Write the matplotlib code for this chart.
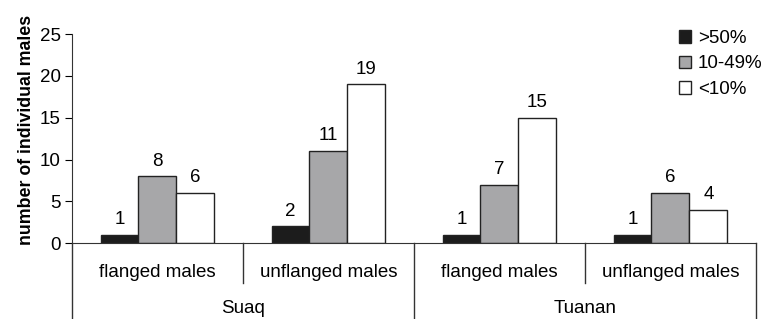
import matplotlib.pyplot as plt
import numpy as np

plt.rcParams['font.family'] = ['Liberation Sans', 'DejaVu Sans']

categories = ["flanged males", "unflanged males", "flanged males", "unflanged males"]
sites = ["Suaq", "Tuanan"]
series_names = [">50%", "10-49%", "<10%"]
over_50 = [1, 2, 1, 1]
mid_10_49 = [8, 11, 7, 6]
under_10 = [6, 19, 15, 4]
colors = ["#1c1c1c", "#a7a7a9", "#ffffff"]

fs = 13.5

fig = plt.figure(figsize=(7.64, 3.19), dpi=100)
ax = fig.add_axes([0.0942, 0.238, 0.8953, 0.655])

x = np.arange(len(categories))
w = 0.222
for i, (vals, col, name) in enumerate(zip([over_50, mid_10_49, under_10], colors, series_names)):
    pos = x + (i - 1) * w
    ax.bar(pos, vals, width=w, color=col, edgecolor="#222222", linewidth=1, label=name)
    for xp, v in zip(pos, vals):
        ax.text(xp, v + 0.8, str(v), ha="center", va="bottom", fontsize=fs)

ax.set_xlim(-0.5, 3.5)
ax.set_ylim(0, 25)
ax.set_yticks(range(0, 26, 5))
ax.tick_params(axis="y", direction="out", length=5, labelsize=fs, pad=3)
ax.set_xticks([])
ax.spines["top"].set_visible(False)
ax.spines["right"].set_visible(False)
ax.spines["left"].set_color("#333333")
ax.spines["bottom"].set_color("#333333")
ax.set_ylabel("number of individual males", fontsize=12.8, fontweight="bold")
ax.yaxis.set_label_coords(-0.054, 0.54)

# hierarchical x axis below the bars
tr = ax.get_xaxis_transform()
for xs in [-0.5, 1.5, 3.5]:
    ax.plot([xs, xs], [0, -0.37], transform=tr, color="#333333", lw=1, clip_on=False)
for xs in [0.5, 2.5]:
    ax.plot([xs, xs], [0, -0.19], transform=tr, color="#333333", lw=1, clip_on=False)
for xi, c in zip(x, categories):
    ax.text(xi, -0.139, c, transform=tr, ha="center", va="center", fontsize=fs)
for j, s in enumerate(sites):
    ax.text(2 * j + 0.5, -0.311, s, transform=tr, ha="center", va="center", fontsize=fs)

ax.legend(loc="upper left", bbox_to_anchor=(679 / 764, 1 - 30 / 319), bbox_transform=fig.transFigure,
          frameon=False, fontsize=fs, borderpad=0, borderaxespad=0,
          handlelength=0.65, handleheight=0.65, handletextpad=0.35, labelspacing=0.45)

plt.savefig("out.png", dpi=100)
